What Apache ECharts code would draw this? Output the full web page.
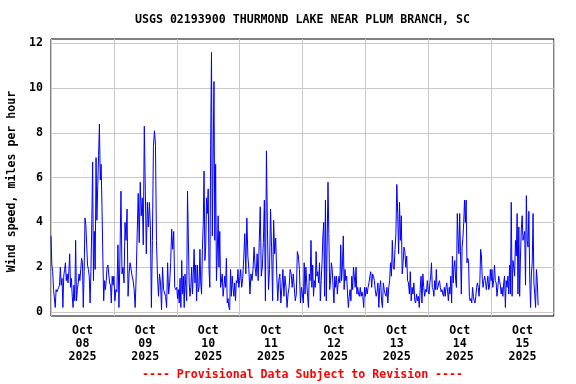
<!DOCTYPE html>
<html>
<head>
<meta charset="utf-8">
<script src="https://cdn.jsdelivr.net/npm/echarts@6/dist/echarts.min.js"></script>
<style>
html,body{margin:0;padding:0;background:#fff;}
#chart{width:576px;height:384px;}
</style>
</head>
<body>
<div id="chart"></div>
<script>
// ---- Data (wind speed, miles per hour) ----
const titleText = 'USGS 02193900 THURMOND LAKE NEAR PLUM BRANCH, SC';
const yAxisName = 'Wind speed, miles per hour';
const footerText = '---- Provisional Data Subject to Revision ----';

const dayLabels = ['08','09','10','11','12','13','14','15'];
const monthLabel = 'Oct';
const yearLabel = '2025';
const yTicks = [0,2,4,6,8,10,12];

// hours of record covered by each day's readings (from Oct 08 2025 00:00)
const dayHours = [24,24,24,24,24,24,24,18.25];

const oct08 = [3.4,2.1,1.8,1.0,1.0,0.2,1.0,0.9,1.0,1.1,1.2,2.0,1.2,1.5,0.2,1.6,1.9,2.2,1.4,1.7,1.3,1.8,2.6,1.1,1.5,0.7,0.2,1.2,0.5,3.2,0.5,1.0,1.3,1.7,1.4,1.9,2.4,2.2,0.2,1.8,4.2,3.9,3.0,2.1,1.9,1.6,0.4,1.8,4.0,6.7,1.4,3.6,1.9,6.9,4.1,5.6,7.0,8.4,5.9,6.6,4.7,2.5,0.5,1.4,1.0,1.4,2.0,2.1,1.7,1.3,1.2,0.4,1.6,1.2];
const oct09 = [1.6,0.5,1.0,0.9,3.0,0.2,2.5,5.4,1.7,2.0,1.3,4.0,3.2,4.6,0.7,1.7,2.2,2.2,1.6,1.4,1.0,0.2,1.6,3.5,5.3,3.1,5.8,4.3,5.1,3.0,8.3,5.4,2.6,4.9,3.8,4.9,3.8,0.2,3.2,7.4,8.1,7.5,3.2,1.6,0.7,1.7,1.3,0.1,2.0,1.0,1.0,0.7,0.2,2.2,0.8,1.3,2.2,3.7,2.8,3.6,1.1,1.0];
const oct10 = [1.1,0.6,1.0,0.4,1.5,0.2,2.3,0.8,1.6,0.2,1.7,1.1,0.5,5.4,3.3,1.3,0.7,1.1,2.0,0.8,1.7,2.8,1.3,2.1,0.5,2.1,0.9,1.1,2.8,1.3,0.8,2.8,3.9,6.3,2.3,2.9,5.1,4.4,5.5,1.9,1.1,7.5,11.6,3.4,6.9,10.3,3.2,6.6,1.4,2.6,4.3,2.0,3.6,1.1,1.1,1.7,0.7,1.1,1.6,1.1,2.4,0.4,0.6,0.2,0.1,1.9,0.7,1.6,1.1,0.7,1.3,0.5,1.4,1.3,1.9,1.1];
const oct11 = [1.4,1.9,1.1,1.5,2.4,3.5,1.7,4.2,2.5,1.9,0.8,1.7,1.4,1.9,2.9,2.0,1.6,2.6,1.4,3.1,4.7,1.6,2.0,3.1,5.0,0.5,7.2,3.7,1.0,1.9,4.6,2.9,0.5,4.1,2.6,3.3,1.7,0.5,1.4,1.7,0.4,1.1,1.9,0.7,1.6,1.1,0.2,0.8,1.1,1.9,1.7,1.1,1.7,1.1,0.5,0.8,2.7,2.5,1.9,0.4,1.1];
const oct12 = [1.1,0.4,2.2,0.8,2.0,1.3,0.7,0.2,1.7,1.4,3.2,1.1,2.1,0.7,1.4,1.1,2.7,1.6,1.8,1.3,2.2,0.5,1.4,2.2,3.4,4.0,0.7,5.0,0.5,3.0,5.8,3.5,1.0,1.4,2.2,1.9,1.1,0.4,1.6,1.1,1.6,0.8,1.3,1.6,1.3,3.0,1.4,2.1,3.4,1.0,1.9,1.4,1.6,0.8,0.2,0.7,1.0,0.5,1.6,1.0,2.0,1.6,1.1,2.0,0.8,1.1,0.8,0.7,1.1,0.7,0.9,0.7,0.2,1.1];
const oct13 = [0.7,1.1,0.8,1.1,1.3,1.6,1.8,1.1,1.7,1.6,1.4,1.0,0.7,0.9,1.3,0.2,1.1,1.4,0.5,0.2,1.3,1.0,0.8,0.7,1.1,0.4,1.1,1.4,2.2,1.6,3.2,2.0,1.9,2.8,3.5,5.7,4.4,2.6,4.9,3.2,4.3,1.7,2.2,2.9,2.7,2.0,2.5,1.4,1.3,0.8,1.8,0.5,1.1,0.8,1.3,0.5,0.4,0.8,0.5,0.7,0.2,1.0,1.6,0.4,1.7,1.1,0.7,1.0,0.9,1.4];
const oct14 = [0.9,0.8,1.3,1.6,2.2,1.1,1.0,0.7,1.4,1.0,1.9,1.0,1.1,1.3,1.4,1.1,0.9,1.0,0.8,0.7,1.1,0.7,1.1,1.3,0.9,0.5,1.1,0.8,1.6,0.4,2.5,1.3,2.0,2.3,1.4,1.1,4.4,3.3,2.6,4.4,2.7,0.8,2.9,3.3,4.0,5.0,4.0,5.0,2.2,2.4,2.3,0.7,0.5,0.6,0.4,1.1,0.7,0.5,0.4,0.7,1.1,1.3,1.1,0.7,1.3,2.8,2.5,1.5,1.1,1.4,1.6,1.4,1.0,1.3,1.6,1.0,1.1,1.9];
const oct15 = [1.4,1.9,1.1,1.4,2.1,1.4,1.3,0.7,1.1,1.6,1.4,1.2,0.8,1.1,0.7,1.3,1.6,0.2,1.4,1.1,1.6,0.8,2.1,0.8,4.9,0.7,2.3,2.0,1.6,3.2,2.5,4.4,0.8,3.8,0.7,2.5,3.7,4.3,3.2,3.4,3.6,1.2,5.2,3.2,2.9,4.5,1.6,0.2,1.7,2.2,4.4,1.3,0.8,0.2,1.9,1.4,0.3];

const days = [oct08,oct09,oct10,oct11,oct12,oct13,oct14,oct15];

// ---- Build series: x = hours since Oct 08 2025 00:00 ----
const seriesData = [];
days.forEach(function (arr, d) {
  const step = dayHours[d] / arr.length;
  arr.forEach(function (v, i) {
    seriesData.push([d * 24 + i * step, v]);
  });
});
const dayTicks = [];
for (let d = 0; d <= dayLabels.length; d++) dayTicks.push(d * 24);
const noonTicks = dayLabels.map(function (_, d) { return d * 24 + 12; });

const FONT = '"DejaVu Sans Mono", "Liberation Mono", monospace';
const FS = 11.6;
const GRID = {left: 51, right: 22, top: 39, bottom: 68};
const W = 576, H = 384;
const plotCenterX = GRID.left + (W - GRID.left - GRID.right) / 2;

const chart = echarts.init(document.getElementById('chart'), null, {renderer: 'canvas'});
chart.setOption({
  backgroundColor: '#ffffff',
  animation: false,
  graphic: [{
    type: 'text', x: plotCenterX, y: 20, silent: true,
    style: {text: titleText, align: 'center', verticalAlign: 'middle',
      font: 'bold ' + FS + 'px ' + FONT, fill: '#000'}
  }, {
    type: 'text', x: plotCenterX, y: 375, silent: true,
    style: {text: footerText, align: 'center', verticalAlign: 'middle',
      font: 'bold ' + FS + 'px ' + FONT, fill: '#ff0000'}
  }],
  grid: Object.assign({show: true, borderColor: '#000', borderWidth: 1, backgroundColor: '#fff',
    containLabel: false, outerBoundsMode: 'none'}, GRID),
  xAxis: {
    type: 'value',
    min: 0,
    max: dayLabels.length * 24,
    axisLine: {show: false},
    axisTick: {show: false, customValues: dayTicks},
    splitLine: {show: true, lineStyle: {color: '#c8c8c8', width: 1}},
    axisLabel: {
      customValues: noonTicks,
      margin: 8,
      fontFamily: FONT, fontSize: FS, fontWeight: 'bold', color: '#000',
      lineHeight: 13,
      formatter: function (val) {
        const idx = Math.round((val - 12) / 24);
        return monthLabel + '\n' + dayLabels[idx] + '\n' + yearLabel;
      }
    }
  },
  yAxis: {
    type: 'value',
    min: -0.18,
    max: 12.2,
    name: yAxisName,
    nameLocation: 'middle',
    nameRotate: 90,
    nameGap: 32,
    nameTextStyle: {fontFamily: FONT, fontSize: FS, fontWeight: 'bold', color: '#000',
      padding: [0, 8, 0, 0]},
    axisLine: {show: false},
    axisTick: {show: false, customValues: yTicks},
    splitLine: {show: true, lineStyle: {color: '#c8c8c8', width: 1}},
    axisLabel: {
      customValues: yTicks,
      margin: 8,
      fontFamily: FONT, fontSize: FS, fontWeight: 'bold', color: '#000'
    }
  },
  series: [{
    type: 'line',
    data: seriesData,
    showSymbol: false,
    symbol: 'none',
    lineStyle: {color: '#0000ff', width: 1},
    itemStyle: {color: '#0000ff'},
    silent: true
  }]
});
</script>
</body>
</html>
